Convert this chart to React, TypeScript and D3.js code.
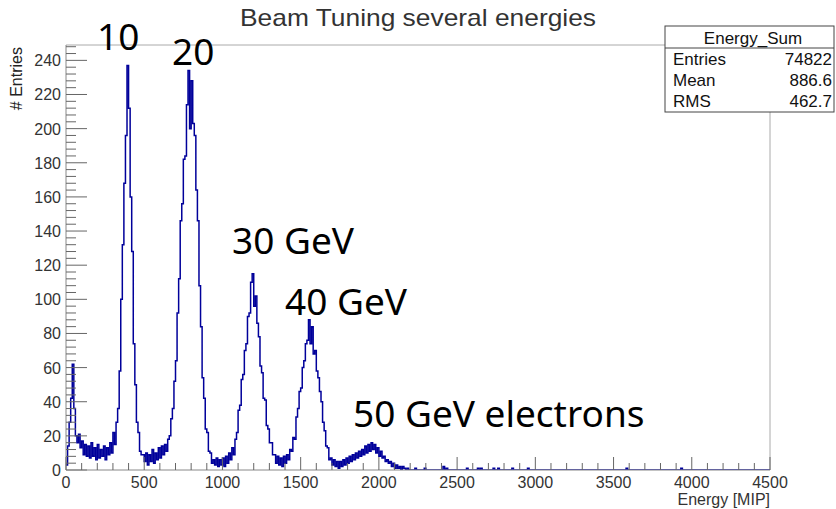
import React from "react";
import * as d3 from "d3";

// ---- data ----
const title = "Beam Tuning several energies";
const xTicks = [0, 500, 1000, 1500, 2000, 2500, 3000, 3500, 4000, 4500];
const yTicks = [0, 20, 40, 60, 80, 100, 120, 140, 160, 180, 200, 220, 240];
const binWidth = 10;
// counts per bin, bins start at 0 with width 10 (0..2200)
const counts = [
  3, 14, 28, 42, 62, 36, 20, 16, 21, 13,
  17, 9, 15, 8, 14, 7, 16, 8, 13, 6,
  15, 7, 12, 8, 14, 6, 13, 9, 16, 10,
  22, 15, 28, 36, 58, 100, 132, 168, 196, 237,
  212, 160, 128, 74, 50, 28, 22, 11, 9, 9,
  5, 10, 3, 9, 5, 12, 4, 10, 6, 13,
  7, 14, 9, 15, 11, 18, 20, 30, 36, 52,
  64, 92, 112, 146, 156, 182, 184, 214, 234, 200,
  228, 203, 196, 164, 146, 108, 84, 54, 42, 24,
  22, 11, 10, 4, 6, 3, 7, 2, 6, 3,
  7, 2, 8, 4, 10, 6, 13, 9, 18, 22,
  35, 38, 53, 56, 70, 74, 90, 92, 110, 115,
  96, 102, 86, 78, 61, 57, 42, 41, 26, 24,
  16, 16, 9, 9, 4, 8, 3, 7, 2, 8,
  4, 9, 6, 12, 11, 19, 18, 31, 36, 46,
  48, 60, 64, 74, 76, 88, 74, 84, 68, 70,
  58, 54, 46, 40, 28, 23, 14, 13, 6, 7,
  3, 6, 2, 5, 1, 5, 2, 6, 3, 7,
  4, 8, 5, 9, 6, 10, 7, 11, 8, 12,
  9, 14, 10, 15, 11, 16, 12, 15, 10, 13,
  8, 11, 7, 8, 5, 6, 4, 5, 2, 4,
  1, 3, 1, 2, 0, 2, 1, 0, 1, 0,
];
// sparse isolated entries in the high-energy tail
const tailEnergies = [2230, 2290, 2410, 2430, 2560, 2630, 2650, 2730, 2760, 2850, 2950, 3580, 3930];
const tailCounts = [1, 1, 2, 1, 1, 1, 1, 1, 1, 1, 1, 1, 1];
const statsName = "Energy_Sum";
const statsLabels = ["Entries", "Mean", "RMS"];
const statsValues = ["74822", "886.6", "462.7"];
const annotations = ["10", "20", "30 GeV", "40 GeV", "50 GeV electrons"];

const W = 836;
const H = 509;
const L = 66, R = 770, T = 45, B = 470;

export default function App() {
  const x = d3.scaleLinear().domain([0, 4500]).range([L, R]);
  const y = d3.scaleLinear().domain([0, 249]).range([B, T]);

  const nBins = 4500 / binWidth;
  const all: number[] = new Array(nBins).fill(0);
  counts.forEach((c, i) => (all[i] = c));
  tailEnergies.forEach((e, i) => {
    all[Math.floor(e / binWidth)] += tailCounts[i];
  });
  const pts: [number, number][] = all.map((c, i) => [i * binWidth, c]);
  pts.push([4500, all[nBins - 1]]);
  const line = d3
    .line<[number, number]>()
    .x((d) => x(d[0]))
    .y((d) => y(d[1]))
    .curve(d3.curveStepAfter);
  const pathD = line(pts) || "";

  const xMinor = d3.range(0, 4501, 100);
  const yMinor = d3.range(0, 249, 4);

  const axisFont = "'Liberation Sans', Arial, Helvetica, sans-serif";
  const annFont = "'Noto Sans', 'Open Sans', sans-serif";
  const annPos = [
    [97, 50],
    [172, 65],
    [232, 254],
    [285, 315],
    [353, 427],
  ];

  return (
    <svg
      width={W}
      height={H}
      style={{ position: "absolute", left: 0, top: 0, background: "#fff" }}
      fontFamily={axisFont}
    >
      <defs>
        <clipPath id="frame">
          <rect x={L} y={T} width={R - L} height={B - T} />
        </clipPath>
      </defs>
      <rect x={0} y={0} width={W} height={H} fill="#fff" />
      {/* frame */}
      <line x1={L} y1={T} x2={665} y2={T} stroke="#aaa" />
      <line x1={R} y1={112} x2={R} y2={B} stroke="#aaa" />

      {/* histogram */}
      <path d={pathD} fill="none" stroke="#00009a" strokeWidth={1.5} clipPath="url(#frame)" />

      {/* y axis */}
      <line x1={L} y1={T} x2={L} y2={B} stroke="#888" />
      {yMinor.map((v) => (
        <line key={"ym" + v} x1={L} x2={L + (v % 20 === 0 ? 21 : 10)} y1={y(v)} y2={y(v)} stroke="#666" />
      ))}
      {yTicks.map((v) => (
        <text key={"yt" + v} x={L - 5} y={y(v) + 6} textAnchor="end" fontSize={16} fill="#333">
          {v}
        </text>
      ))}
      <text
        transform={`translate(22,47) rotate(-90)`}
        textAnchor="end"
        fontSize={16}
        fill="#222"
      >
        # Entries
      </text>

      {/* x axis */}
      <line x1={L} y1={B} x2={R} y2={B} stroke="#888" />
      {xMinor.map((v) => (
        <line key={"xm" + v} x1={x(v)} x2={x(v)} y1={B} y2={B - (v % 500 === 0 ? 13 : 7)} stroke="#666" />
      ))}
      {xTicks.map((v) => (
        <text key={"xt" + v} x={x(v)} y={488} textAnchor="middle" fontSize={16} fill="#333">
          {v}
        </text>
      ))}
      <text x={R} y={505} textAnchor="end" fontSize={16} fill="#333">
        Energy [MIP]
      </text>

      {/* title */}
      <text x={418} y={26} textAnchor="middle" fontSize={24} fill="#333" textLength={356} lengthAdjust="spacingAndGlyphs">
        {title}
      </text>

      {/* stats box */}
      <rect x={665} y={26} width={169} height={86} fill="#fff" stroke="#444" />
      <line x1={665} x2={834} y1={48} y2={48} stroke="#444" />
      <text x={753} y={44} textAnchor="middle" fontSize={17} fill="#111">
        {statsName}
      </text>
      {statsLabels.map((s, i) => (
        <g key={s}>
          <text x={673} y={65 + i * 21} fontSize={17} fill="#111">
            {s}
          </text>
          <text x={832} y={65 + i * 21} textAnchor="end" fontSize={17} fill="#111">
            {statsValues[i]}
          </text>
        </g>
      ))}

      {/* annotations */}
      {annotations.map((a, i) => (
        <text key={a} x={annPos[i][0]} y={annPos[i][1]} fontSize={37} fontFamily={annFont} fill="#000">
          {a}
        </text>
      ))}
    </svg>
  );
}
